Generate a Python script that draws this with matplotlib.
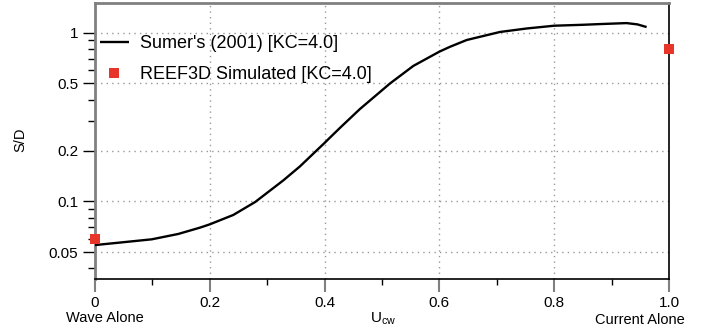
import matplotlib
matplotlib.use('Agg')
import matplotlib.pyplot as plt
from matplotlib.ticker import FixedLocator, NullFormatter

# Sumer's (2001) curve
u_sumer = [0.0, 0.041, 0.099, 0.145, 0.183, 0.20, 0.241, 0.279, 0.328, 0.357, 0.386,
           0.40, 0.409, 0.427, 0.4617, 0.514, 0.5545, 0.60, 0.6185, 0.6476, 0.7056,
           0.752, 0.80, 0.85, 0.88, 0.926, 0.945, 0.961]
sd_sumer = [0.055, 0.0568, 0.0595, 0.064, 0.0698, 0.073, 0.083, 0.099, 0.133, 0.161, 0.200,
            0.222, 0.238, 0.273, 0.353, 0.50, 0.635, 0.772, 0.825, 0.905, 1.010,
            1.059, 1.10, 1.114, 1.125, 1.14, 1.12, 1.08]

# REEF3D simulated points
u_reef = [0.0, 1.0]
sd_reef = [0.0595, 0.80]

y_major = [0.05, 0.1, 0.2, 0.5, 1]
y_major_labels = ['0.05', '0.1', '0.2', '0.5', '1']
y_minor = [0.04, 0.06, 0.07, 0.08, 0.09, 0.3, 0.4, 0.6, 0.7, 0.8, 0.9]
x_major = [0, 0.2, 0.4, 0.6, 0.8, 1.0]
x_major_labels = ['0', '0.2', '0.4', '0.6', '0.8', '1.0']
x_minor = [0.1, 0.3, 0.5, 0.7, 0.9]

plt.rcParams['font.family'] = ['Liberation Sans', 'DejaVu Sans']

fig = plt.figure(figsize=(7.04, 3.33), dpi=100)
ax = fig.add_axes([95 / 704, 1 - 279 / 333, (669 - 95) / 704, (279 - 3) / 333])

ax.plot(u_sumer, sd_sumer, color='black', linewidth=1.7, label="Sumer's (2001) [KC=4.0]",
        zorder=3, solid_joinstyle='round', solid_capstyle='butt')
ax.plot(u_reef, sd_reef, linestyle='none', marker='s', markersize=7.2, color='#e8352a',
        markeredgewidth=0, label='REEF3D Simulated [KC=4.0]', clip_on=False, zorder=4)

ax.set_yscale('log')
ax.set_xlim(0, 1.0)
ax.set_ylim(0.0346, 1.5)

ax.yaxis.set_major_locator(FixedLocator(y_major))
ax.set_yticks(y_major, y_major_labels)
ax.yaxis.set_minor_locator(FixedLocator(y_minor))
ax.yaxis.set_minor_formatter(NullFormatter())
ax.set_xticks(x_major, x_major_labels)
ax.set_xticks(x_minor, minor=True)

ax.tick_params(axis='both', which='major', labelsize=11, direction='out')
ax.tick_params(axis='y', which='major', length=9, width=1, color='black', pad=3)
ax.tick_params(axis='y', which='minor', length=5, width=1, color='black')
ax.tick_params(axis='x', which='major', length=9, width=1.5, color='#808080', pad=3)
ax.tick_params(axis='x', which='minor', length=4, width=1, color='black')

ax.grid(True, which='major', color='#999999', linestyle=(0, (1, 3)), linewidth=1)

ax.spines['left'].set_color('#808080')
ax.spines['left'].set_linewidth(2)
ax.spines['top'].set_color('#808080')
ax.spines['top'].set_linewidth(2)
ax.spines['bottom'].set_color('black')
ax.spines['right'].set_color('black')
ax.spines['bottom'].set_linewidth(1.2)
ax.spines['right'].set_linewidth(1.2)

fig.text(20 / 704, 1 - 140 / 333, 'S/D', fontsize=10.5, rotation=90, ha='center', va='center')
fig.text(383 / 704, 1 - 319 / 333, r'U$_{\mathregular{cw}}$', fontsize=11, ha='center', va='center')
fig.text(105 / 704, 1 - 318 / 333, 'Wave Alone', fontsize=10.5, ha='center', va='center')
fig.text(640 / 704, 1 - 320 / 333, 'Current Alone', fontsize=10.5, ha='center', va='center')

ax.legend(loc='upper left', bbox_to_anchor=(-0.012, 0.925), frameon=False, fontsize=13,
          handlelength=1.6, handletextpad=0.6, labelspacing=0.75, borderaxespad=0.25)

fig.savefig('out.png', dpi=100)
